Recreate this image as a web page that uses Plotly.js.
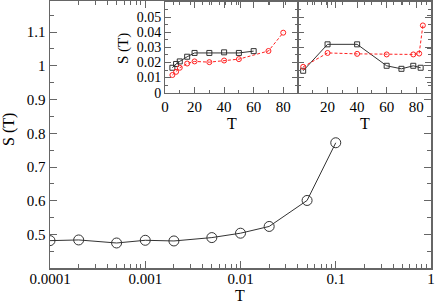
<!DOCTYPE html>
<html><head><meta charset="utf-8">
<script src="https://cdn.plot.ly/plotly-3.0.1.min.js"></script>
<style>html,body{margin:0;padding:0;background:#fff}#g{width:436px;height:306px}</style>
</head><body><div id="g"></div>
<script>
// Main panel
const mainT = [0.0001, 0.0002, 0.0005, 0.001, 0.002, 0.005, 0.01, 0.02, 0.05, 0.1];
const mainS = [0.482, 0.484, 0.475, 0.483, 0.481, 0.491, 0.504, 0.524, 0.601, 0.772];
const mainXTicks = [0.0001, 0.001, 0.01, 0.1, 1];
const mainXTickText = ['0.0001', '0.001', '0.01', '0.1', '1'];
const mainYTicks = [0.5, 0.6, 0.7, 0.8, 0.9, 1, 1.1];
const mainYTickText = ['0.5', '0.6', '0.7', '0.8', '0.9', '1', '1.1'];
// Left inset
const insLBlackT = [5, 7.5, 10, 15, 20, 30, 40, 50, 60];
const insLBlackS = [0.0165, 0.019, 0.0207, 0.0238, 0.0263, 0.0263, 0.0267, 0.0263, 0.0275];
const insLRedT = [5, 7.5, 10, 15, 20, 30, 40, 50, 70, 80];
const insLRedS = [0.0117, 0.0138, 0.0165, 0.0193, 0.0207, 0.0202, 0.0213, 0.0222, 0.0276, 0.0397];
// Right inset
const insRBlackT = [3.5, 20, 40, 60, 70, 78, 83];
const insRBlackS = [0.0145, 0.032, 0.032, 0.0178, 0.0158, 0.0178, 0.0165];
const insRRedT = [3.5, 20, 40, 60, 78, 82, 84.5];
const insRRedS = [0.0171, 0.0263, 0.0257, 0.0253, 0.0253, 0.0259, 0.0445];
const insYTicks = [0, 0.01, 0.02, 0.03, 0.04, 0.05];
const insYTickText = ['0', '0.01', '0.02', '0.03', '0.04', '0.05'];
const insLXTicks = [0, 20, 40, 60, 80];
const insRXTicks = [20, 40, 60, 80];

const W = 436, H = 306;
const px = v => v / W;
const py = v => 1 - v / H;

const minorLog = [];
for (let e = -4; e < 0; e++) for (let d = 2; d <= 9; d++) minorLog.push(d * Math.pow(10, e));

const FONT = 'Liberation Serif';
const axCol = '#666';
const black = '#333';
const red = '#ff2020';

const baseAx = {
  showline: true, linecolor: axCol, linewidth: 1.5, mirror: 'allticks',
  ticks: 'inside', tickcolor: axCol, ticklen: 7, tickwidth: 1,
  showgrid: false, zeroline: false,
  tickfont: {family: FONT, size: 15, color: '#000'}
};

const traces = [
  {x: mainT, y: mainS, xaxis: 'x', yaxis: 'y', mode: 'lines+markers',
   line: {color: black, width: 1},
   marker: {symbol: 'circle-open', size: 10, color: black, line: {width: 1, color: black}}},
  {x: insLBlackT, y: insLBlackS, xaxis: 'x2', yaxis: 'y2', mode: 'lines+markers',
   line: {color: black, width: 1},
   marker: {symbol: 'square-open', size: 5, color: black, line: {width: 1, color: black}}},
  {x: insLRedT, y: insLRedS, xaxis: 'x2', yaxis: 'y2', mode: 'lines+markers',
   line: {color: red, width: 1, dash: '3px,2px'},
   marker: {symbol: 'circle-open', size: 5, color: red, line: {width: 1, color: red}}},
  {x: insRBlackT, y: insRBlackS, xaxis: 'x3', yaxis: 'y3', mode: 'lines+markers',
   line: {color: black, width: 1},
   marker: {symbol: 'square-open', size: 5, color: black, line: {width: 1, color: black}}},
  {x: insRRedT, y: insRRedS, xaxis: 'x3', yaxis: 'y3', mode: 'lines+markers',
   line: {color: red, width: 1, dash: '3px,2px'},
   marker: {symbol: 'circle-open', size: 5, color: red, line: {width: 1, color: red}}}
];

const layout = {
  width: W, height: H, margin: {l: 0, r: 0, t: 0, b: 0},
  paper_bgcolor: '#fff', plot_bgcolor: 'rgba(0,0,0,0)', showlegend: false,
  font: {family: FONT, color: '#000'},
  xaxis: Object.assign({}, baseAx, {
    type: 'log', domain: [px(50), px(431)], range: [-4, 0], anchor: 'y',
    tickmode: 'array', tickvals: mainXTicks, ticktext: mainXTickText, ticklabelstandoff: -4,
    minor: {tickmode: 'array', tickvals: minorLog, ticks: 'inside', ticklen: 4, tickcolor: axCol}
  }),
  yaxis: Object.assign({}, baseAx, {
    domain: [py(268.3), py(1)], range: [0.4, 1.192], anchor: 'x',
    tickmode: 'array', tickvals: mainYTicks, ticktext: mainYTickText,
    minor: {dtick: 0.05, ticks: 'inside', ticklen: 4, tickcolor: axCol}
  }),
  xaxis2: Object.assign({}, baseAx, {
    domain: [px(165), px(298)], range: [0, 90], anchor: 'y2', linewidth: 1,
    tickmode: 'array', tickvals: insLXTicks, ticklen: 6,
    minor: {dtick: 10, ticks: 'inside', ticklen: 3, tickcolor: axCol}
  }),
  yaxis2: Object.assign({}, baseAx, {
    domain: [py(92.7), py(2)], range: [0, 0.06], anchor: 'x2', ticklen: 6, linewidth: 1,
    tickmode: 'array', tickvals: insYTicks, ticktext: insYTickText,
    minor: {dtick: 0.005, ticks: 'inside', ticklen: 3, tickcolor: axCol},
    tickfont: {family: FONT, size: 14, color: '#000'}
  }),
  xaxis3: Object.assign({}, baseAx, {
    domain: [px(298), px(431)], range: [0, 90], anchor: 'y3', linewidth: 1,
    tickmode: 'array', tickvals: insRXTicks, ticklen: 6,
    minor: {dtick: 10, ticks: 'inside', ticklen: 3, tickcolor: axCol}
  }),
  yaxis3: Object.assign({}, baseAx, {
    domain: [py(92.7), py(2)], range: [0, 0.06], anchor: 'x3', ticklen: 6, linewidth: 1,
    tickmode: 'array', tickvals: insYTicks, showticklabels: false,
    minor: {dtick: 0.005, ticks: 'inside', ticklen: 3, tickcolor: axCol}
  }),
  annotations: [
    {text: 'T', xref: 'paper', yref: 'paper', x: px(240), y: py(295), showarrow: false,
     xanchor: 'center', yanchor: 'middle', font: {family: FONT, size: 16}},
    {text: 'S (T)', xref: 'paper', yref: 'paper', x: px(9), y: py(130), showarrow: false,
     textangle: -90, xanchor: 'center', yanchor: 'middle', font: {family: FONT, size: 16}},
    {text: 'T', xref: 'paper', yref: 'paper', x: px(232), y: py(123), showarrow: false,
     xanchor: 'center', yanchor: 'middle', font: {family: FONT, size: 16}},
    {text: 'T', xref: 'paper', yref: 'paper', x: px(365), y: py(123), showarrow: false,
     xanchor: 'center', yanchor: 'middle', font: {family: FONT, size: 16}},
    {text: 'S (T)', xref: 'paper', yref: 'paper', x: px(123), y: py(48), showarrow: false,
     textangle: -90, xanchor: 'center', yanchor: 'middle', font: {family: FONT, size: 15}}
  ]
};

layout.shapes = [{type: 'rect', xref: 'paper', yref: 'paper',
  x0: px(165), x1: px(431), y0: py(92.7), y1: py(2),
  fillcolor: '#fff', line: {width: 0}, layer: 'below'}];

Plotly.newPlot('g', traces, layout, {staticPlot: true, displayModeBar: false});
</script></body></html>
